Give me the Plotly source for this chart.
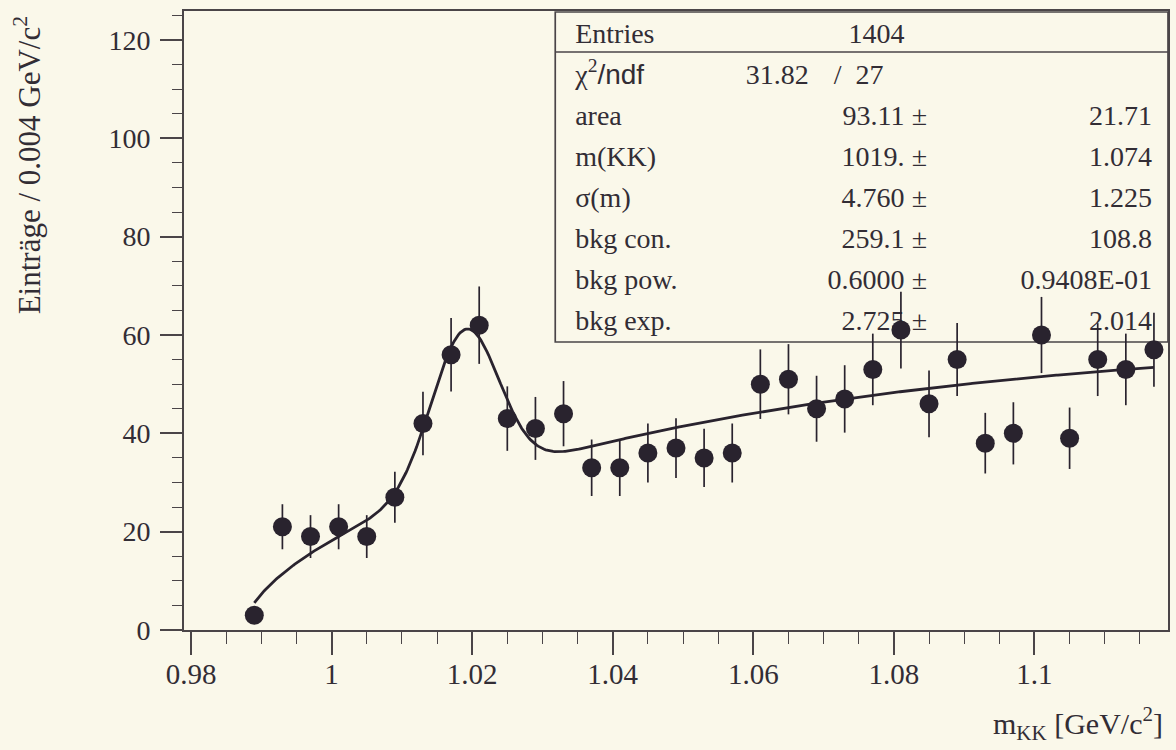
import numpy as np
import plotly.graph_objects as go

# K+K- invariant-mass histogram: 33 bins of 4 MeV starting at 0.987 GeV
bin_low = 0.987
bin_width = 0.004
counts = [3, 21, 19, 21, 19, 27, 42, 56, 62, 43, 41, 44, 33, 33, 36, 37, 35,
          36, 50, 51, 45, 47, 53, 61, 46, 55, 38, 40, 60, 39, 55, 53, 57]

# fit: Gaussian phi peak on a threshold background
n_entries = 1404
chi2, ndf = 31.82, 27
fit_area, fit_area_err = 93.11, 21.71
fit_mass, fit_mass_err = 1019.0, 1.074          # MeV
fit_sigma, fit_sigma_err = 4.760, 1.225         # MeV
bkg_con, bkg_con_err = 259.1, 108.8
bkg_pow, bkg_pow_err = 0.6000, 0.9408e-01
bkg_exp, bkg_exp_err = 2.725, 2.014
kaon_mass = 0.493677                            # GeV

x_tick_vals = [0.98, 1.00, 1.02, 1.04, 1.06, 1.08, 1.10]
x_tick_text = ["0.98", "1", "1.02", "1.04", "1.06", "1.08", "1.1"]

stat_labels = ["area", "m(KK)", "\u03c3(m)", "bkg con.", "bkg pow.", "bkg exp."]
stat_values = ["93.11", "1019.", "4.760", "259.1", "0.6000", "2.725"]
stat_errors = ["21.71", "1.074", "1.225", "108.8", "0.9408E-01", "2.014"]

# ---------------------------------------------------------------- geometry
W, H = 1176, 750
X_PX = (184, 1170)
Y_PX = (11, 630)
X_RANGE = (0.979, 1.119)
Y_RANGE = (0.0, 125.9)

BG = "#faf8ea"
INK = "#29232e"
TEXT = "#322d35"
AXIS = "#4a4548"
SERIF = "Liberation Serif"


def px_x(px):
    return X_RANGE[0] + (px - X_PX[0]) / (X_PX[1] - X_PX[0]) * (X_RANGE[1] - X_RANGE[0])


def px_y(py):
    return Y_RANGE[0] + (Y_PX[1] - py) / (Y_PX[1] - Y_PX[0]) * (Y_RANGE[1] - Y_RANGE[0])


def paper_x(px):
    return (px - X_PX[0]) / (X_PX[1] - X_PX[0])


def paper_y(py):
    return (Y_PX[1] - py) / (Y_PX[1] - Y_PX[0])


# ---------------------------------------------------------------- data
centers = bin_low + bin_width * (np.arange(len(counts)) + 0.5)
y = np.array(counts, dtype=float)
y_err = np.sqrt(y)

m_th = 2 * kaon_mass
mu = fit_mass / 1000.0
sig = fit_sigma / 1000.0
m = np.linspace(centers[0], centers[-1], 600)
signal = fit_area * bin_width / (np.sqrt(2 * np.pi) * sig) * np.exp(-0.5 * ((m - mu) / sig) ** 2)
background = bkg_con * (m - m_th) ** bkg_pow * np.exp(-bkg_exp * (m - m_th))
fit_curve = signal + background

fig = go.Figure()

# ---------------------------------------------------------------- statistics box text
row_y = [36, 77, 118, 159, 200, 241, 282, 323]
txt_font = dict(family=SERIF, size=28, color=TEXT)

left_col = px_x(576)
val_col = px_x(906)
pm_col = px_x(921)
err_col = px_x(1154)

fig.add_trace(go.Scatter(
    x=[left_col, left_col] + [left_col] * len(stat_labels),
    y=[px_y(row_y[0]), px_y(row_y[1])] + [px_y(r) for r in row_y[2:]],
    text=["Entries",
          "\u03c7<sup>2</sup><span style='font-family:Liberation Sans'>/ndf</span>"] + stat_labels,
    mode="text", textposition="middle right", textfont=txt_font,
    hoverinfo="skip", showlegend=False))

fig.add_trace(go.Scatter(
    x=[val_col, px_x(810), px_x(885)] + [val_col] * len(stat_values),
    y=[px_y(row_y[0]), px_y(row_y[1]), px_y(row_y[1])] + [px_y(r) for r in row_y[2:]],
    text=[str(n_entries), f"{chi2:.2f}", "/  " + str(ndf)] + stat_values,
    mode="text", textposition="middle left", textfont=txt_font,
    hoverinfo="skip", showlegend=False))

fig.add_trace(go.Scatter(
    x=[pm_col] * len(stat_values),
    y=[px_y(r) for r in row_y[2:]],
    text=["\u00b1"] * len(stat_values),
    mode="text", textposition="middle center", textfont=txt_font,
    hoverinfo="skip", showlegend=False))

fig.add_trace(go.Scatter(
    x=[err_col] * len(stat_errors),
    y=[px_y(r) for r in row_y[2:]],
    text=stat_errors,
    mode="text", textposition="middle left", textfont=txt_font,
    hoverinfo="skip", showlegend=False))

# ---------------------------------------------------------------- fit curve and data
fig.add_trace(go.Scatter(
    x=m, y=fit_curve, mode="lines",
    line=dict(color=INK, width=2.8),
    hoverinfo="skip", showlegend=False))

fig.add_trace(go.Scatter(
    x=centers, y=y, mode="markers",
    marker=dict(symbol="circle", size=19, color=INK),
    error_y=dict(type="data", array=y_err, visible=True,
                 thickness=1.7, width=0, color=INK),
    showlegend=False))

# statistics box frame
box_left, box_top, box_sep, box_bottom = 556, 12, 52, 342
fig.add_shape(type="rect", xref="paper", yref="paper",
              x0=paper_x(box_left), x1=1.0, y0=paper_y(box_bottom), y1=paper_y(box_top),
              line=dict(color=AXIS, width=1.7), fillcolor="rgba(0,0,0,0)", layer="below")
fig.add_shape(type="line", xref="paper", yref="paper",
              x0=paper_x(box_left), x1=1.0, y0=paper_y(box_sep), y1=paper_y(box_sep),
              line=dict(color=AXIS, width=1.7), layer="below")

# axis titles
fig.add_annotation(
    text="Eintr\u00e4ge / 0.004 GeV/c<sup>2</sup>",
    xref="paper", yref="paper", x=paper_x(28), y=paper_y(165),
    xanchor="center", yanchor="middle", textangle=-90, showarrow=False,
    font=dict(family=SERIF, size=31, color=TEXT))
fig.add_annotation(
    text="m<sub>KK</sub> [GeV/c<sup>2</sup>]",
    xref="paper", yref="paper", x=paper_x(1167), y=paper_y(700),
    xanchor="right", yanchor="top", showarrow=False,
    font=dict(family=SERIF, size=30, color=TEXT))

fig.update_layout(
    width=W, height=H,
    margin=dict(l=X_PX[0], r=W - X_PX[1], t=Y_PX[0], b=H - Y_PX[1], pad=0),
    paper_bgcolor=BG, plot_bgcolor=BG,
    showlegend=False,
    xaxis=dict(
        range=list(X_RANGE), tickvals=x_tick_vals, ticktext=x_tick_text,
        ticks="outside", ticklen=23, tickwidth=1.5, tickcolor=AXIS,
        minor=dict(ticks="outside", ticklen=12, tickwidth=1.3, tickcolor=AXIS,
                   dtick=0.005, tick0=0.98, showgrid=False),
        showgrid=False, zeroline=False, showline=True, linecolor=AXIS, linewidth=1.7,
        mirror=True, ticklabelstandoff=-6,
        tickfont=dict(family=SERIF, size=29, color=TEXT)),
    yaxis=dict(
        range=list(Y_RANGE), tickmode="linear", tick0=0, dtick=20,
        ticks="outside", ticklen=22, tickwidth=1.5, tickcolor=AXIS,
        minor=dict(ticks="outside", ticklen=10, tickwidth=1.3, tickcolor=AXIS,
                   dtick=5, tick0=0, showgrid=False),
        showgrid=False, zeroline=False, showline=True, linecolor=AXIS, linewidth=1.7,
        mirror=True, ticklabelstandoff=4,
        tickfont=dict(family=SERIF, size=28, color=TEXT)),
)

fig.write_html("out.html")
